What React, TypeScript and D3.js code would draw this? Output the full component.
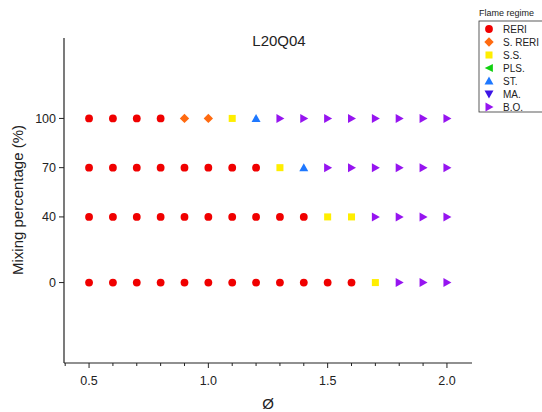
import React from "react";
import * as d3 from "d3";

// Equivalence ratio values sampled for every mixing level
const phiValues = [0.5, 0.6, 0.7, 0.8, 0.9, 1.0, 1.1, 1.2, 1.3, 1.4, 1.5, 1.6, 1.7, 1.8, 1.9, 2.0];
const mixingLevels = [100, 70, 40, 0];

// Flame regime observed at each phi, one row per mixing level
const regime100 = ["RERI", "RERI", "RERI", "RERI", "S. RERI", "S. RERI", "S.S.", "ST.", "B.O.", "B.O.", "B.O.", "B.O.", "B.O.", "B.O.", "B.O.", "B.O."];
const regime70 = ["RERI", "RERI", "RERI", "RERI", "RERI", "RERI", "RERI", "RERI", "S.S.", "ST.", "B.O.", "B.O.", "B.O.", "B.O.", "B.O.", "B.O."];
const regime40 = ["RERI", "RERI", "RERI", "RERI", "RERI", "RERI", "RERI", "RERI", "RERI", "RERI", "S.S.", "S.S.", "B.O.", "B.O.", "B.O.", "B.O."];
const regime0 = ["RERI", "RERI", "RERI", "RERI", "RERI", "RERI", "RERI", "RERI", "RERI", "RERI", "RERI", "RERI", "S.S.", "B.O.", "B.O.", "B.O."];
const regimeRows = [regime100, regime70, regime40, regime0];

const regimeNames = ["RERI", "S. RERI", "S.S.", "PLS.", "ST.", "MA.", "B.O."];
const regimeColors = ["#f00000", "#ff6a10", "#ffee00", "#10d010", "#1e78ff", "#3c14e6", "#9614f0"];

const xTickLabels = [0.5, 1.0, 1.5, 2.0];
const yTickLabels = [0, 40, 70, 100];

const W = 542;
const H = 412;
const left = 64;
const right = 472;
const top = 38;
const bottom = 363;

const font = "Arial, 'Liberation Sans', sans-serif";

function Marker({ kind, x, y, color }: { kind: string; x: number; y: number; color: string }) {
  const s = 3.9;
  switch (kind) {
    case "RERI":
      return <circle cx={x} cy={y} r={s} fill={color} />;
    case "S. RERI":
      return <path d={`M${x},${y - s * 1.2}L${x + s * 1.2},${y}L${x},${y + s * 1.2}L${x - s * 1.2},${y}Z`} fill={color} />;
    case "S.S.":
      return <rect x={x - s * 0.9} y={y - s * 0.9} width={s * 1.8} height={s * 1.8} fill={color} />;
    case "PLS.":
      return <path d={`M${x - s * 1.1},${y}L${x + s},${y - s}L${x + s},${y + s}Z`} fill={color} />;
    case "ST.":
      return <path d={`M${x},${y - s * 1.15}L${x + s * 1.15},${y + s * 0.9}L${x - s * 1.15},${y + s * 0.9}Z`} fill={color} />;
    case "MA.":
      return <path d={`M${x},${y + s * 1.15}L${x + s * 1.15},${y - s * 0.9}L${x - s * 1.15},${y - s * 0.9}Z`} fill={color} />;
    default:
      return <path d={`M${x + s * 1.15},${y}L${x - s * 0.9},${y - s * 1.15}L${x - s * 0.9},${y + s * 1.15}Z`} fill={color} />;
  }
}

export default function App() {
  const x = d3.scaleLinear().domain([0.395, 2.105]).range([left, right]);
  const y = d3.scaleLinear().domain([-49, 149]).range([bottom, top]);
  const colorOf = d3.scaleOrdinal<string, string>().domain(regimeNames).range(regimeColors);
  const minorTicks = d3.range(4, 21).map((v) => v / 10);

  return (
    <svg width={W} height={H} style={{ position: "absolute", left: 0, top: 0, background: "#fff" }} fontFamily={font}>
      <text x={279} y={46} textAnchor="middle" fontSize={15} fill="#222">L20Q04</text>

      {/* axes */}
      <line x1={left} y1={top} x2={left} y2={bottom} stroke="#222" strokeWidth={1.2} />
      <line x1={left} y1={bottom} x2={right} y2={bottom} stroke="#222" strokeWidth={1.2} />

      {minorTicks.map((t) => (
        <line key={t} x1={x(t)} x2={x(t)} y1={bottom} y2={bottom + (xTickLabels.some((v) => Math.abs(v - t) < 1e-6) ? 5 : 3)} stroke="#222" strokeWidth={1} />
      ))}
      {xTickLabels.map((t) => (
        <text key={t} x={x(t)} y={bottom + 22} textAnchor="middle" fontSize={12.5} fill="#222">{t.toFixed(1)}</text>
      ))}
      <text x={268} y={409} textAnchor="middle" fontSize={15} fill="#222">Ø</text>

      {yTickLabels.map((t) => (
        <g key={t}>
          <line x1={left - 5} x2={left} y1={y(t)} y2={y(t)} stroke="#222" strokeWidth={1} />
          <text x={left - 8} y={y(t) + 4.5} textAnchor="end" fontSize={12.5} fill="#222">{t}</text>
        </g>
      ))}
      <text transform={`translate(23,${200}) rotate(-90)`} textAnchor="middle" fontSize={15} fill="#222">Mixing percentage (%)</text>

      {/* data points */}
      {regimeRows.map((row, ri) =>
        row.map((kind, i) => (
          <Marker key={`${ri}-${i}`} kind={kind} x={x(phiValues[i])} y={y(mixingLevels[ri])} color={colorOf(kind)} />
        ))
      )}

      {/* legend */}
      <text x={479} y={16} fontSize={9} fill="#222">Flame regime</text>
      <rect x={479} y={21} width={70} height={91} fill="none" stroke="#333" strokeWidth={0.8} />
      {regimeNames.map((name, i) => (
        <g key={name}>
          <Marker kind={name} x={489} y={29 + i * 13} color={regimeColors[i]} />
          <text x={503} y={32.5 + i * 13} fontSize={10} fill="#222">{name}</text>
        </g>
      ))}
    </svg>
  );
}
